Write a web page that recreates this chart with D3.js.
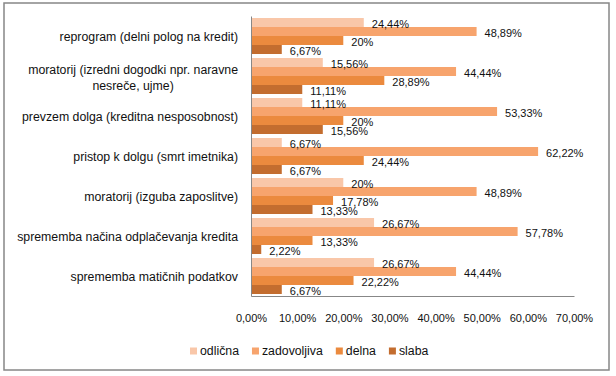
<!DOCTYPE html>
<html><head><meta charset="utf-8">
<script src="https://cdn.jsdelivr.net/npm/d3@7"></script>
<style>
body{margin:0;background:#fff;}
text{font-family:"Liberation Sans",Arial,sans-serif;font-size:11px;fill:#111;}
</style></head>
<body>
<svg id="c" width="616" height="376"></svg>
<script>
const categories = [
  "reprogram (delni polog na kredit)",
  "moratorij (izredni dogodki npr. naravne\nnesreče, ujme)",
  "prevzem dolga (kreditna nesposobnost)",
  "pristop k dolgu (smrt imetnika)",
  "moratorij (izguba zaposlitve)",
  "sprememba načina odplačevanja kredita",
  "sprememba matičnih podatkov"
];
const seriesNames = ["odlična", "zadovoljiva", "delna", "slaba"];
const odlicna     = [24.44, 15.56, 11.11, 6.67, 20, 26.67, 26.67];
const zadovoljiva = [48.89, 44.44, 53.33, 62.22, 48.89, 57.78, 44.44];
const delna       = [20, 28.89, 20, 24.44, 17.78, 13.33, 22.22];
const slaba       = [6.67, 11.11, 15.56, 6.67, 13.33, 2.22, 6.67];
const xTicks = [0, 10, 20, 30, 40, 50, 60, 70];
const colors = ["#F9C7A9", "#F7A46D", "#EB8A3E", "#C36D2F"];

(function() {
const seriesValues = [odlicna, zadovoljiva, delna, slaba];
const svg = d3.select("#c");
const FONT = '"Liberation Sans",Arial,sans-serif';

svg.append("rect").attr("x", 4).attr("y", 3).attr("width", 605).attr("height", 367)
  .attr("fill", "#fff").attr("stroke", "#878787").attr("stroke-width", 1.5);

const pL = 251, pR = 574, pT = 16, pB = 296;
const x = d3.scaleLinear().domain([0, 70]).range([pL, pR]);
const y = d3.scaleBand().domain(categories).range([pT, pB]).paddingInner(0.1).paddingOuter(0.05);
const ySub = d3.scaleBand().domain(seriesNames).range([0, y.bandwidth()]).padding(0);

const loc = d3.formatLocale({decimal: ",", thousands: ".", grouping: [3], currency: ["", "€"]});
const f2 = loc.format(".2f");
const lblFmt = v => (Number.isInteger(v) ? String(v) : f2(v)) + "%";

const groups = svg.append("g").selectAll("g").data(categories).join("g")
  .attr("transform", c => `translate(0,${y(c)})`);
groups.each(function(c, i) {
  const g = d3.select(this);
  seriesNames.forEach((s, j) => {
    const v = seriesValues[j][i];
    g.append("rect").attr("x", x(0)).attr("y", ySub(s))
      .attr("width", x(v) - x(0)).attr("height", ySub.bandwidth())
      .attr("fill", colors[j]);
  });
});
groups.each(function(c, i) {
  const g = d3.select(this);
  seriesNames.forEach((s, j) => {
    const v = seriesValues[j][i];
    g.append("text").attr("x", x(v) + 8).attr("y", ySub(s) + ySub.bandwidth() / 2 + 2)
      .attr("dy", "0.35em").text(lblFmt(v));
  });
});

const xAxis = svg.append("g").attr("transform", `translate(0,${pB})`)
  .call(d3.axisBottom(x).tickValues(xTicks).tickSize(0).tickPadding(18)
    .tickFormat(d => f2(d) + "%"));
xAxis.select(".domain").attr("stroke", "#878787");
xAxis.selectAll("text").style("font-family", FONT).style("font-size", "11px").attr("fill", "#111");

const yAxis = svg.append("g").attr("transform", `translate(${pL},0)`)
  .call(d3.axisLeft(y).tickSize(0).tickFormat(""));
yAxis.select(".domain").attr("stroke", "#878787");
yAxis.selectAll(".tick").each(function(c) {
  const lines = c.split("\n");
  const t = d3.select(this).append("text").attr("fill", "#111")
    .style("font-family", FONT).style("font-size", "12.3px");
  const lh = 16;
  lines.forEach((ln, k) => {
    t.append("tspan").attr("x", 0).attr("y", (k - (lines.length - 1) / 2) * lh + (lines.length > 1 ? 2 : 1))
      .attr("dy", "0.35em").text(ln);
  });
  if (lines.length === 1) {
    t.attr("text-anchor", "end").selectAll("tspan").attr("x", -13);
  } else {
    let w = 0;
    t.selectAll("tspan").each(function() { w = Math.max(w, this.getComputedTextLength()); });
    t.attr("text-anchor", "middle").selectAll("tspan").attr("x", -13 - w / 2);
  }
});

const legend = svg.append("g").attr("transform", "translate(190,351)");
let lx = 0;
seriesNames.forEach((s, j) => {
  const it = legend.append("g").attr("transform", `translate(${lx},0)`);
  it.append("rect").attr("x", 0).attr("y", -3.5).attr("width", 7).attr("height", 7).attr("fill", colors[j]);
  const tx = it.append("text").attr("x", 10).attr("dy", "0.35em")
    .style("font-size", "12.3px").text(s);
  lx += 10 + tx.node().getComputedTextLength() + 13;
});
})();
</script>
</body></html>
